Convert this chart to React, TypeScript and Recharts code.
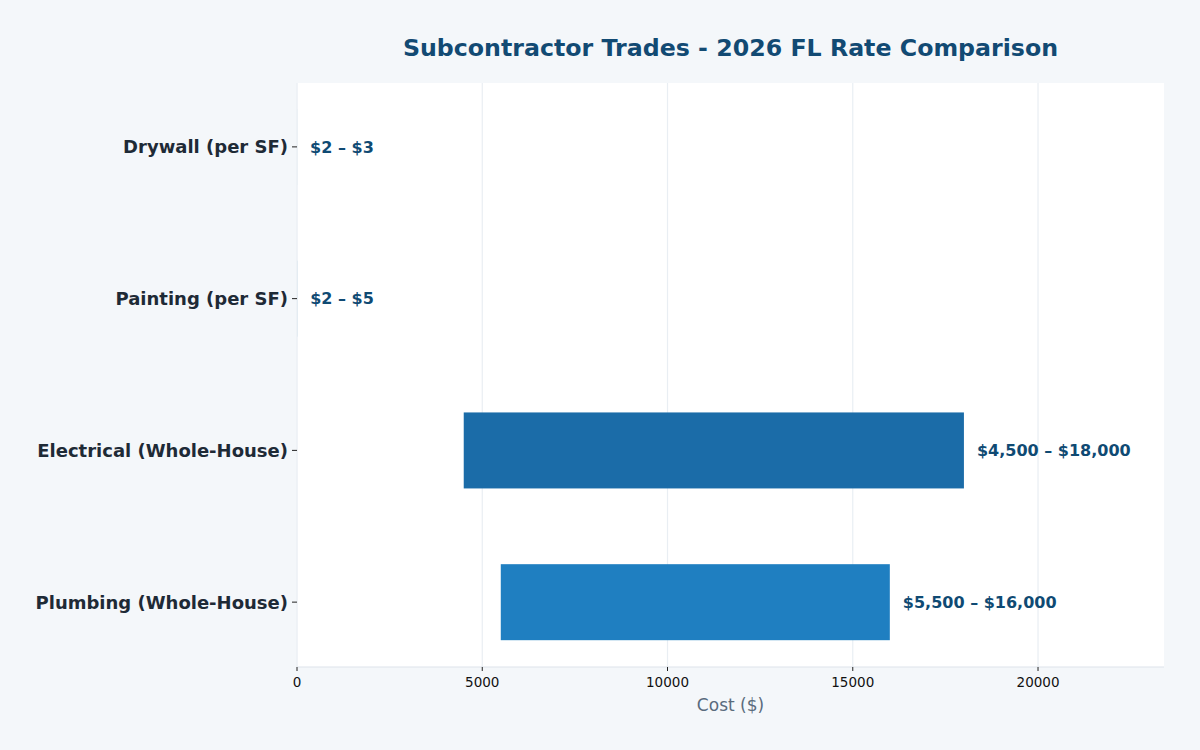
import { BarChart, Bar, XAxis, YAxis, CartesianGrid, LabelList } from 'recharts';

const trades = ['Drywall (per SF)', 'Painting (per SF)', 'Electrical (Whole-House)', 'Plumbing (Whole-House)'];
const lowRates = [2, 2, 4500, 5500];
const highRates = [3, 5, 18000, 16000];
const rateLabels = ['$2 – $3', '$2 – $5', '$4,500 – $18,000', '$5,500 – $16,000'];
const barColors = ['#1b6ca8', '#1b6ca8', '#1b6ca8', '#1f7fc1'];
const xTicks = [0, 5000, 10000, 15000, 20000];

const data = trades.map((trade, i) => ({
  trade,
  range: [lowRates[i], highRates[i]],
  label: rateLabels[i],
  color: barColors[i],
}));

const FONT = '"DejaVu Sans", sans-serif';

function RangeLabel(props: any) {
  const { x, y, width, height, value } = props;
  return (
    <text
      x={x + width + 13}
      y={y + height / 2}
      dy="0.35em"
      fill="#0f4a73"
      fontSize={16}
      fontWeight="bold"
      fontFamily={FONT}
    >
      {value}
    </text>
  );
}

function RangeBar(props: any) {
  const { x, y, width, height, payload } = props;
  return <rect x={x} y={y} width={Math.max(width, 0)} height={height} fill={payload.color} />;
}

export default function App() {
  return (
    <div style={{ position: 'fixed', left: 0, top: 0, width: 1200, height: 750, background: '#f4f7fa', fontFamily: FONT }}>
      <div
        style={{
          position: 'absolute',
          left: 297,
          width: 867,
          top: 32,
          textAlign: 'center',
          fontSize: 23.7,
          fontWeight: 'bold',
          color: '#124a73',
          lineHeight: '32px',
        }}
      >
        Subcontractor Trades - 2026 FL Rate Comparison
      </div>
      <BarChart
        width={1200}
        height={750}
        data={data}
        layout="vertical"
        margin={{ top: 83, right: 36, bottom: 0, left: 0 }}
        barCategoryGap="25%"
      >
        <CartesianGrid horizontal={false} stroke="#e9eef3" strokeWidth={1.2} fill="#ffffff" verticalValues={xTicks} />
        <XAxis
          type="number"
          domain={[0, 23400]}
          ticks={xTicks}
          height={83}
          tickSize={4}
          tickMargin={6}
          axisLine={{ stroke: '#dde3ea' }}
          tickLine={{ stroke: '#222' }}
          tick={{ fontSize: 13.5, fill: '#111', fontFamily: FONT }}
          label={{ value: 'Cost ($)', position: 'insideBottom', offset: 39, fontSize: 17, fill: '#5a6b7d', fontFamily: FONT }}
        />
        <YAxis
          type="category"
          dataKey="trade"
          width={297}
          tickSize={5}
          tickMargin={4}
          padding={{ top: -12, bottom: -11 }}
          axisLine={{ stroke: '#eef2f6' }}
          tickLine={{ stroke: '#222' }}
          tick={{ fontSize: 18, fill: '#1e2a36', fontWeight: 'bold', fontFamily: FONT }}
        />
        <Bar dataKey="range" isAnimationActive={false} shape={RangeBar}>
          <LabelList dataKey="label" content={RangeLabel} />
        </Bar>
      </BarChart>
    </div>
  );
}
